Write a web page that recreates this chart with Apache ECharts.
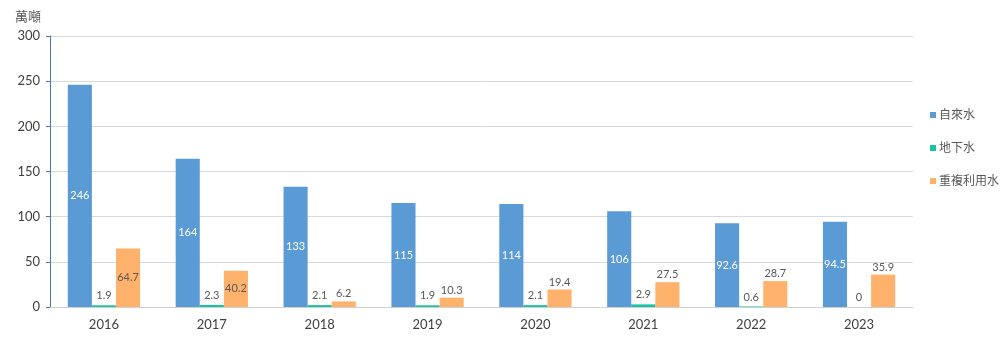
<!DOCTYPE html>
<html><head><meta charset="utf-8">
<script src="https://cdn.jsdelivr.net/npm/echarts@6/dist/echarts.min.js"></script>
<style>html,body{margin:0;padding:0;background:#fff}#c{width:1004px;height:341px}</style>
</head><body><div id="c"></div>
<script>
const categories = ['2016','2017','2018','2019','2020','2021','2022','2023'];
const tapWater = [246,164,133,115,114,106,92.6,94.5];
const groundWater = [1.9,2.3,2.1,1.9,2.1,2.9,0.6,0];
const reusedWater = [64.7,40.2,6.2,10.3,19.4,27.5,28.7,35.9];
const seriesNames = ['自來水','地下水','重複利用水'];
const yTicks = [0,50,100,150,200,250,300];

const font = 'Lato, "Noto Sans CJK TC", sans-serif';
const chart = echarts.init(document.getElementById('c'));
chart.setOption({
  animation:false,
  textStyle:{fontFamily:font},
  grid:{left:50,right:91,top:36,bottom:34},
  legend:{orient:'vertical',right:0,top:104,itemWidth:6,itemHeight:6,itemGap:21,icon:'rect',
    textStyle:{fontSize:12,color:'#595959',fontFamily:font,padding:[0,0,0,-2]},data:seriesNames},
  xAxis:{type:'category',data:categories,
    axisLine:{lineStyle:{color:'#d0d0d0'}},axisTick:{show:false},
    axisLabel:{fontSize:13,color:'#404040',margin:11}},
  yAxis:{type:'value',min:yTicks[0],max:yTicks[yTicks.length-1],interval:50,
    name:'萬噸',nameLocation:'end',nameGap:13,
    nameTextStyle:{fontSize:13,color:'#595959',align:'right',padding:[0,9,0,0]},
    axisLine:{show:true,lineStyle:{color:'#4a78b0'}},
    axisTick:{show:true,length:4,lineStyle:{color:'#4a78b0'}},
    axisLabel:{fontSize:13,color:'#404040',margin:10},
    splitLine:{lineStyle:{color:'#d9d9d9'}}},
  series:[
    {name:seriesNames[0],type:'bar',data:tapWater,barGap:0,barCategoryGap:'33%',
      itemStyle:{color:'#5b9bd5'},
      label:{show:true,position:'inside',color:'#fff',fontSize:11,fontFamily:font}},
    {name:seriesNames[1],type:'bar',data:groundWater,
      itemStyle:{color:'#17c3a2'},
      label:{show:true,position:'top',color:'#595959',fontSize:11,distance:4,fontFamily:font}},
    {name:seriesNames[2],type:'bar',
      data:reusedWater.map(v=>({value:v,label:{position:v>36?'inside':'top'}})),
      itemStyle:{color:'#ffb26b'},
      label:{show:true,color:'#595959',fontSize:11,distance:2,fontFamily:font}}
  ]
});
</script></body></html>
